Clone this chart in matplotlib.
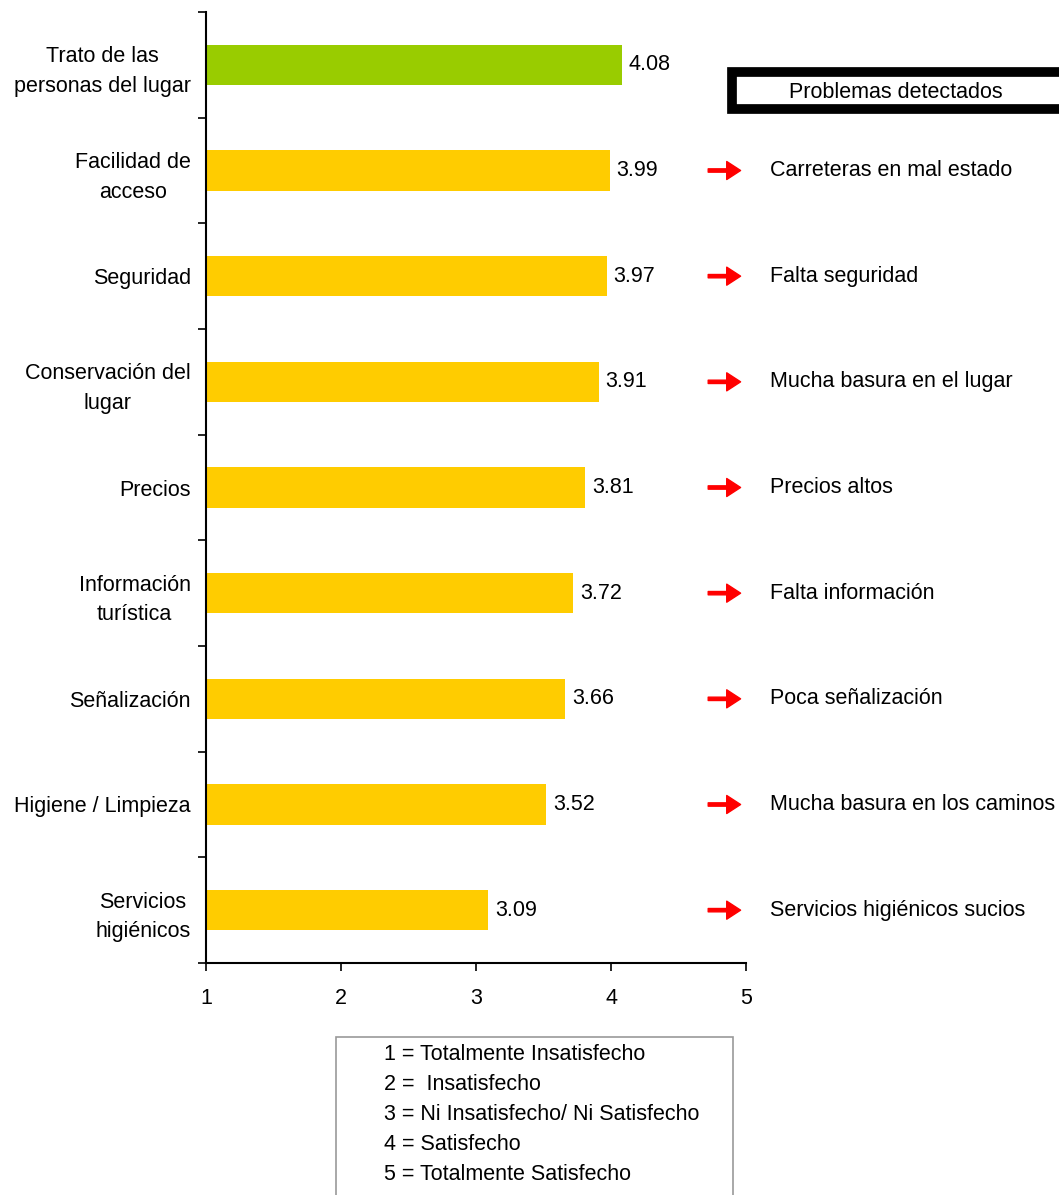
import matplotlib

matplotlib.use("Agg")
import matplotlib.pyplot as plt
from matplotlib.patches import Rectangle

plt.rcParams["font.family"] = ["Liberation Sans", "DejaVu Sans"]

categories = [
    "Trato de las\npersonas del lugar",
    "Facilidad de\nacceso",
    "Seguridad",
    "Conservación del\nlugar",
    "Precios",
    "Información\nturística",
    "Señalización",
    "Higiene / Limpieza",
    "Servicios\nhigiénicos",
]
scores = [4.08, 3.99, 3.97, 3.91, 3.81, 3.72, 3.66, 3.52, 3.09]
problems = [
    None,
    "Carreteras en mal estado",
    "Falta seguridad",
    "Mucha basura en el lugar",
    "Precios altos",
    "Falta información",
    "Poca señalización",
    "Mucha basura en los caminos",
    "Servicios higiénicos sucios",
]
scale_labels = [
    "1 = Totalmente Insatisfecho",
    "2 =  Insatisfecho",
    "3 = Ni Insatisfecho/ Ni Satisfecho",
    "4 = Satisfecho",
    "5 = Totalmente Satisfecho",
]

W, H = 1059, 1195
FS = 15.5
fig = plt.figure(figsize=(W / 100, H / 100), dpi=100)
ax = fig.add_axes([206 / W, 1 - 963 / H, 540 / W, 951 / H])

n = len(categories)
ypos = [i + 0.5 for i in range(n)]
colors = ["#99cc00"] + ["#ffcc00"] * (n - 1)
ax.barh(ypos, [s - 1 for s in scores], left=1, height=0.38, color=colors)

ax.set_xlim(1, 5)
ax.set_ylim(n, 0)
ax.set_xticks([1, 2, 3, 4, 5])
ax.set_yticks(range(n + 1))
ax.set_yticklabels([])
ax.set_yticks(ypos, minor=True)
ax.set_yticklabels(categories, minor=True, fontsize=FS, ha="right",
                   multialignment="center", linespacing=1.55)
ax.tick_params(axis="y", which="minor", length=0, pad=11)
ax.tick_params(axis="both", which="major", direction="out", length=6, width=1.2, labelsize=FS)
ax.tick_params(axis="x", pad=12)
for side in ["top", "right"]:
    ax.spines[side].set_visible(False)
ax.spines["left"].set_linewidth(1.5)
ax.spines["bottom"].set_linewidth(1.5)

for y, s, prob in zip(ypos, scores, problems):
    ax.text(s + 0.05, y, f"{s:.2f}", va="center", ha="left", fontsize=FS)
    if prob is None:
        continue
    ax.annotate("", xy=(4.96, y), xytext=(4.72, y), annotation_clip=False,
                arrowprops=dict(width=2.4, headwidth=13, headlength=10, color="red", shrink=0))
    ax.text(5.18, y, prob, va="center", ha="left", fontsize=FS, clip_on=False)

# "Problemas detectados" header box
fig.patches.append(Rectangle((732 / W, 1 - 109 / H), 340 / W, 37 / H, transform=fig.transFigure,
                             facecolor="white", edgecolor="black", linewidth=7))
fig.text(896 / W, 1 - 92 / H, "Problemas detectados", ha="center", va="center", fontsize=FS)

# scale legend box
fig.patches.append(Rectangle((336 / W, 1 - 1200 / H), 397 / W, 163 / H, transform=fig.transFigure,
                             facecolor="white", edgecolor="#999999", linewidth=1.2))
for i, lab in enumerate(scale_labels):
    fig.text(384 / W, 1 - (1054 + 30 * i) / H, lab, ha="left", va="center", fontsize=FS)

fig.savefig("out.png", dpi=100)
